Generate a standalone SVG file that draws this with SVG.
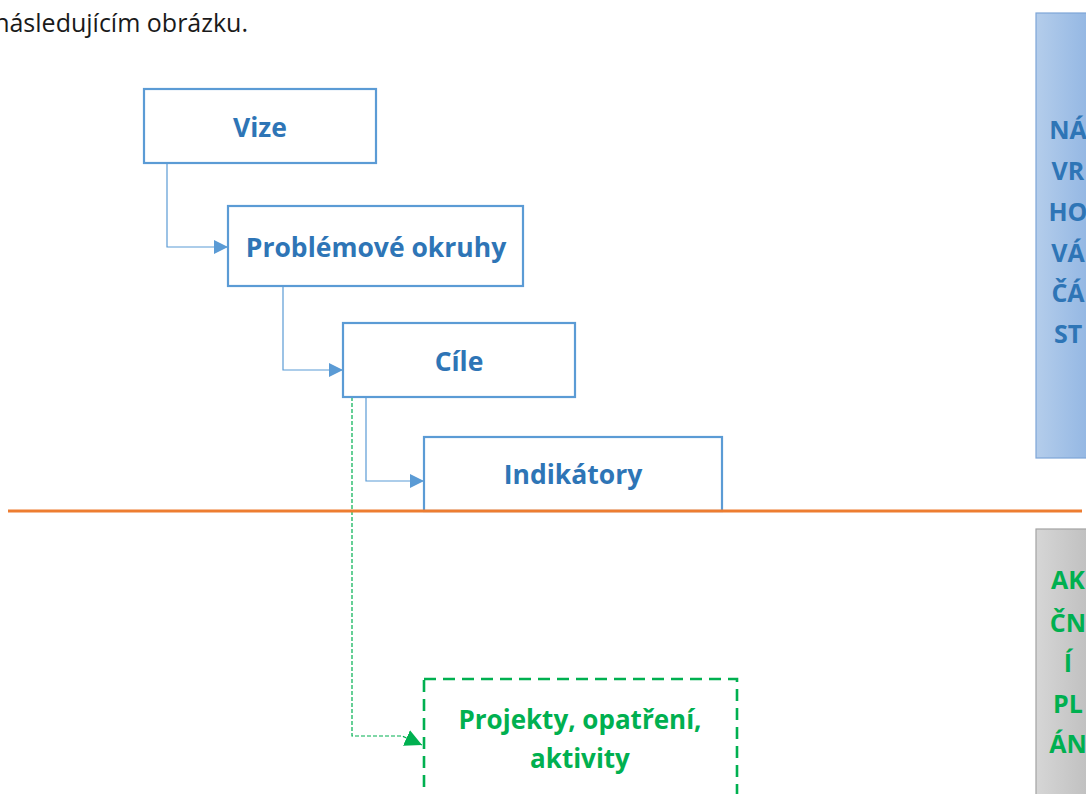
<svg xmlns="http://www.w3.org/2000/svg" width="1086" height="794" viewBox="0 0 1086 794">
<style>
.box{fill:#fff;stroke:#5b9bd5;stroke-width:2.2}
.lbl{font-family:"Open Sans","Liberation Sans",sans-serif;font-weight:bold;font-size:26.5px;fill:#2e75b6;text-anchor:middle}
.glbl{font-family:"Open Sans","Liberation Sans",sans-serif;font-weight:bold;font-size:26px;fill:#00b050;text-anchor:middle}
.side{font-family:"Open Sans","Liberation Sans",sans-serif;font-weight:bold;font-size:25px;text-anchor:middle}
.conn{fill:none;stroke:#5b9bd5;stroke-width:1.2}
.gconn{fill:none;stroke:#00b050;stroke-width:1.2;stroke-dasharray:4 2}
</style>
<defs>
<marker id="ab" viewBox="0 0 10 10" refX="10" refY="5" markerWidth="14" markerHeight="14" markerUnits="userSpaceOnUse" orient="auto"><path d="M0,0 L10,5 L0,10 z" fill="#5b9bd5"/></marker>
<marker id="ag" viewBox="0 0 10 10" refX="10" refY="5" markerWidth="17" markerHeight="17" markerUnits="userSpaceOnUse" orient="auto"><path d="M0,0 L10,5 L0,10 z" fill="#00b050"/></marker>
<linearGradient id="gb" x1="0" x2="1" y1="0" y2="0"><stop offset="0" stop-color="#b4cdeb"/><stop offset="1" stop-color="#8fb4e2"/></linearGradient>
<linearGradient id="gg" x1="0" x2="1" y1="0" y2="0"><stop offset="0" stop-color="#d6d6d6"/><stop offset="1" stop-color="#bdbdbd"/></linearGradient>
</defs>
<rect width="1086" height="794" fill="#fff"/>
<text x="248" y="32" font-family="'Open Sans','Liberation Sans',sans-serif" font-size="25" fill="#1a1a1a" text-anchor="end">následujícím obrázku.</text>

<g id="side-top">
<rect x="1036" y="13" width="60" height="445" fill="url(#gb)" stroke="#7ea6d8" stroke-width="1.2"/>
<text class="side" fill="#2e75b6" x="1068"><tspan x="1068" y="139">NÁ</tspan><tspan x="1068" y="180">VR</tspan><tspan x="1068" y="221">HO</tspan><tspan x="1068" y="262">VÁ</tspan><tspan x="1068" y="302">ČÁ</tspan><tspan x="1068" y="343">ST</tspan></text>
</g>
<g id="side-bottom">
<rect x="1036" y="529" width="60" height="280" fill="url(#gg)" stroke="#a3a3a3" stroke-width="1.2"/>
<text class="side" fill="#00b050" x="1068"><tspan x="1068" y="589">AK</tspan><tspan x="1068" y="632">ČN</tspan><tspan x="1068" y="672">Í</tspan><tspan x="1068" y="713">PL</tspan><tspan x="1068" y="753">ÁN</tspan></text>
</g>

<g id="connectors">
<path class="conn" d="M167,163 V247 H228" marker-end="url(#ab)"/>
<path class="conn" d="M283,286 V370 H343" marker-end="url(#ab)"/>
<path class="conn" d="M366,397 V481 H424" marker-end="url(#ab)"/>
<path class="gconn" d="M352,397 V736 H402 L422,745" marker-end="url(#ag)"/>
</g>

<g id="vize"><rect class="box" x="144" y="89" width="232" height="74"/><text class="lbl" x="260" y="137">Vize</text></g>
<g id="problemove"><rect class="box" x="228" y="206" width="295" height="80"/><text class="lbl" x="376" y="257">Problémové okruhy</text></g>
<g id="cile"><rect class="box" x="343" y="323" width="232" height="74"/><text class="lbl" x="459" y="371">Cíle</text></g>
<g id="indikatory"><rect class="box" x="424" y="437" width="298" height="74"/><text class="lbl" x="573" y="484">Indikátory</text></g>

<line x1="8" y1="511" x2="1082" y2="511" stroke="#ed7d31" stroke-width="3.2"/>

<g id="projekty"><rect x="424" y="679" width="313" height="140" fill="#fff" stroke="#00b050" stroke-width="2.6" stroke-dasharray="12 7"/><text class="glbl"><tspan x="580" y="729">Projekty, opatření,</tspan><tspan x="580" y="768">aktivity</tspan></text></g>
</svg>
